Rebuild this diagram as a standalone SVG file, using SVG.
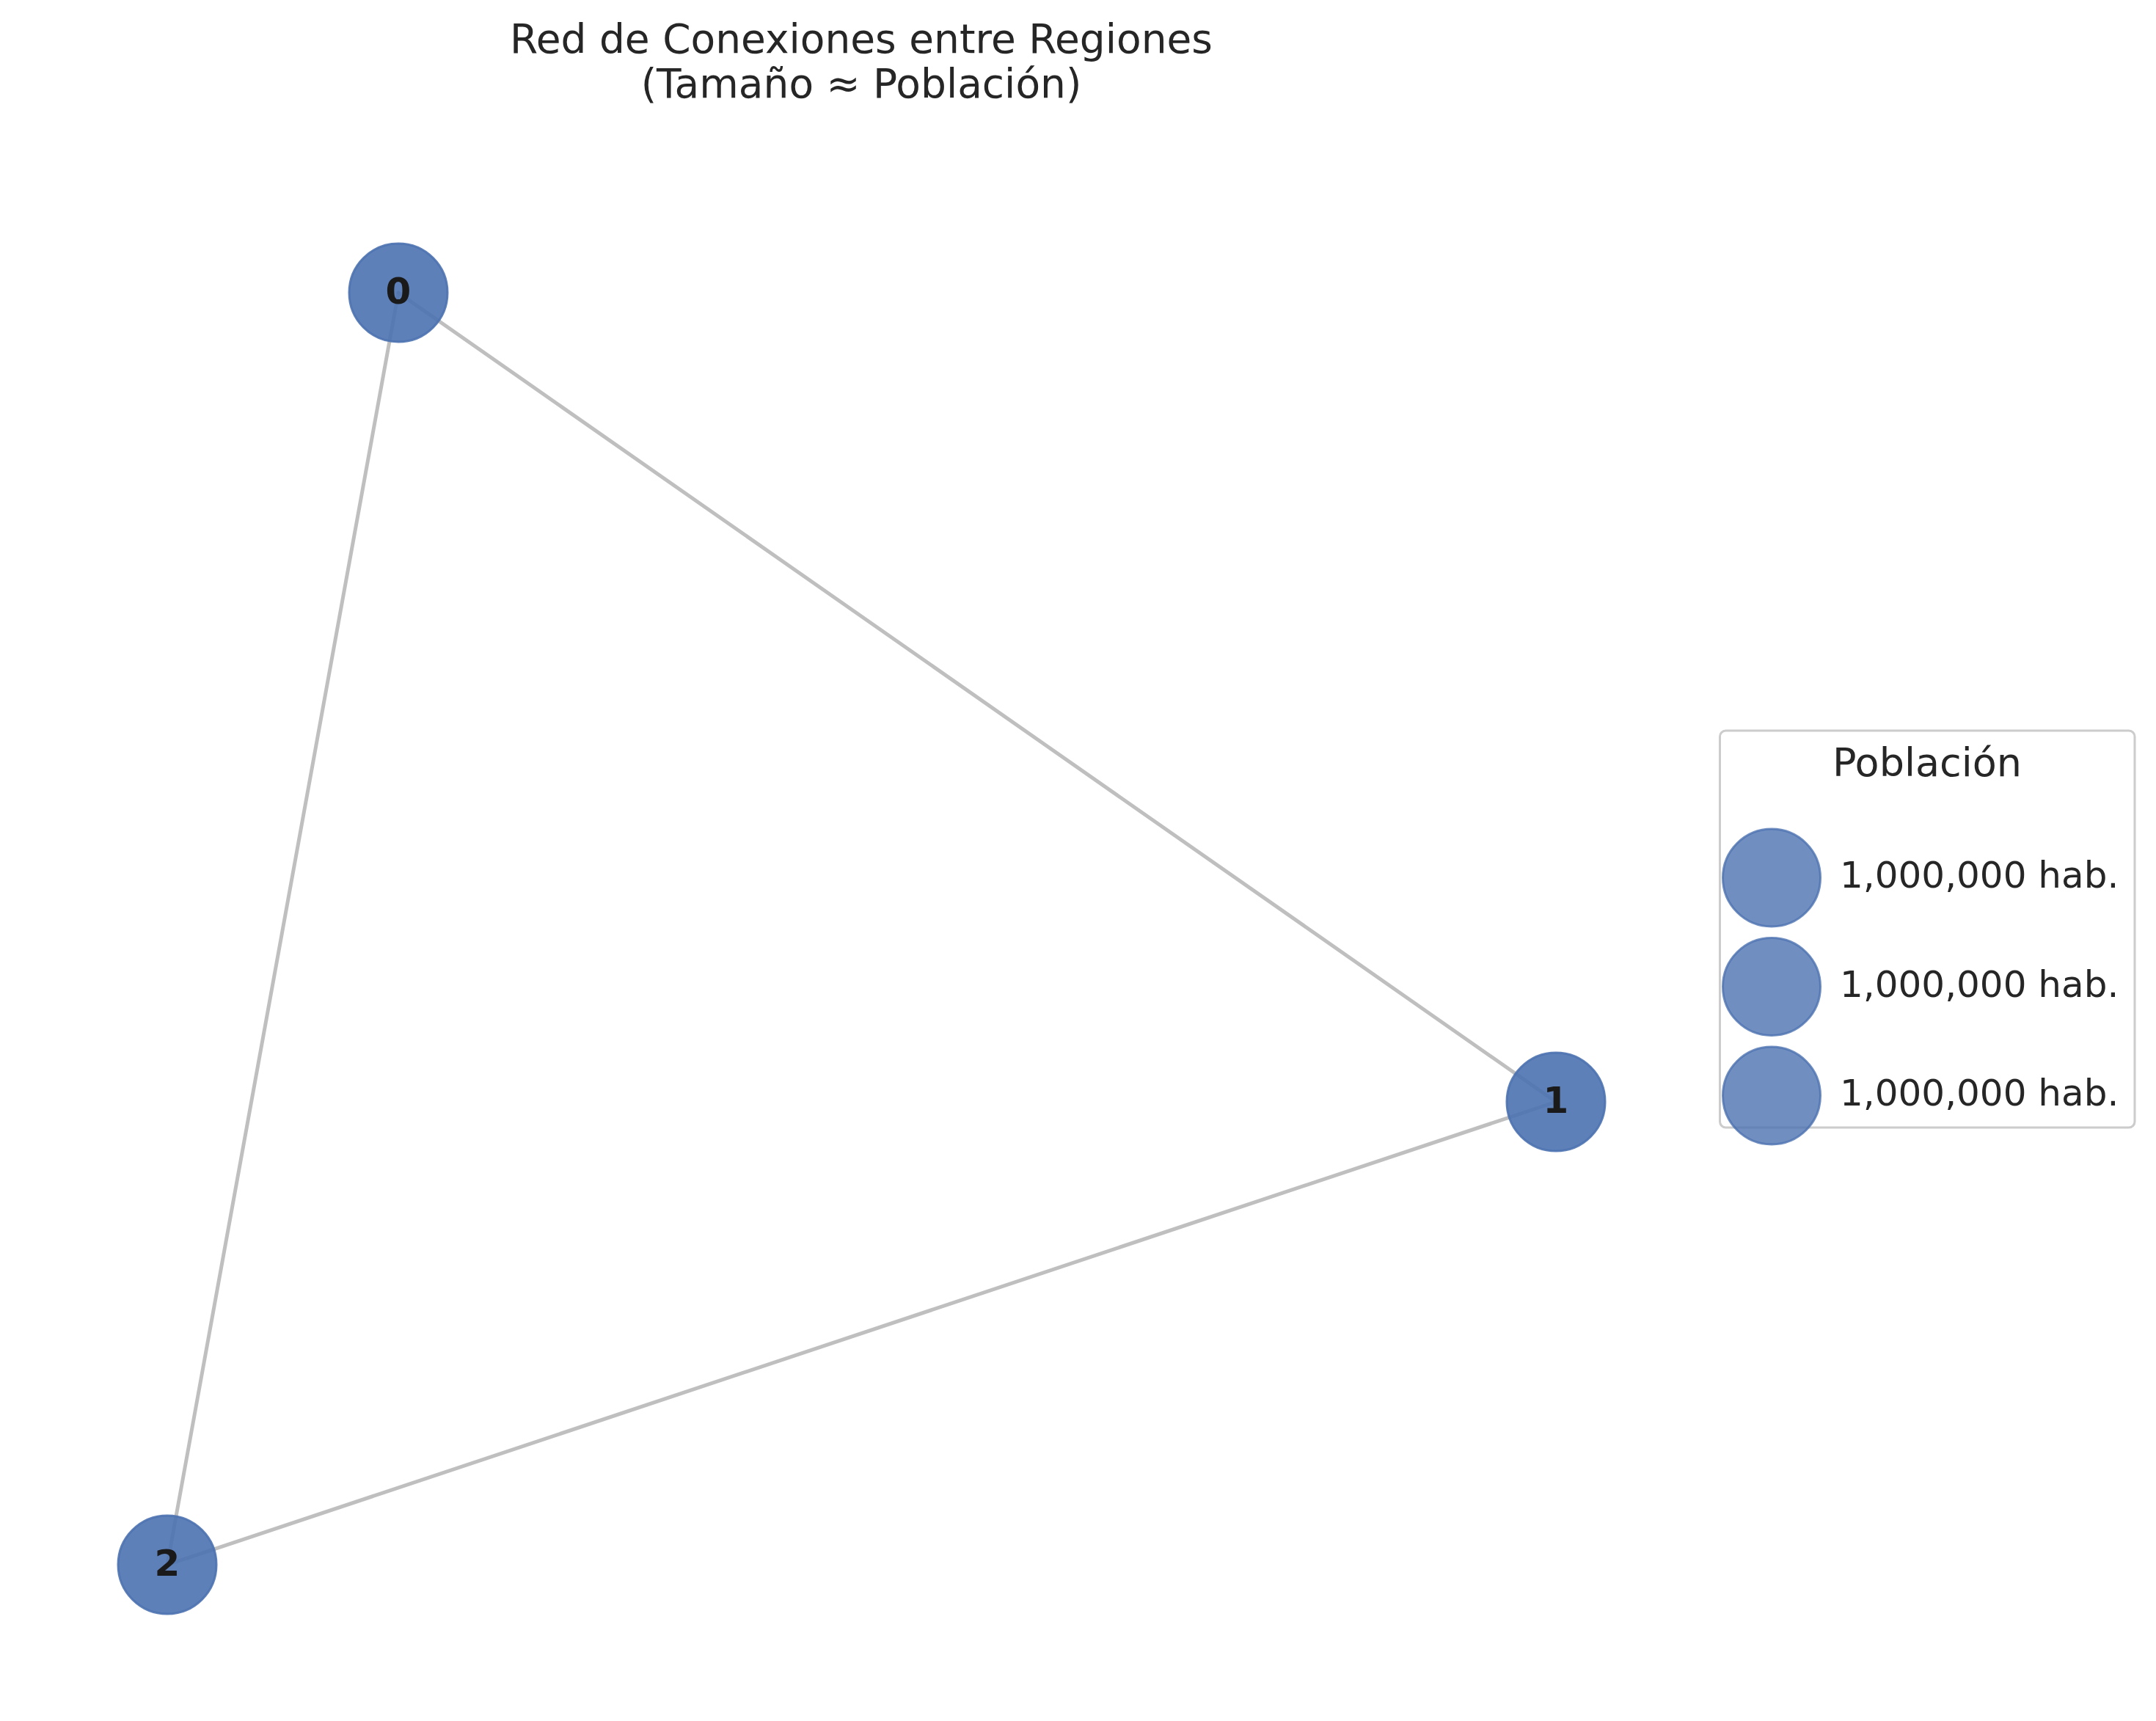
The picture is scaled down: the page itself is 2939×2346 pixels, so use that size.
<svg xmlns="http://www.w3.org/2000/svg" width="2939" height="2346" viewBox="0 0 2939 2346">
<style>
text{font-family:"DejaVu Sans","Liberation Sans",sans-serif;fill:#262626}
.title{font-size:55px;text-anchor:middle}
.edge{stroke:#808080;stroke-opacity:0.5;stroke-width:5;fill:none;stroke-linecap:round}
.node{fill:#4c72b0;fill-opacity:0.9;stroke:#4c72b0;stroke-opacity:0.9;stroke-width:3}
.nlabel{font-size:50px;font-weight:bold;text-anchor:middle;fill:#1a1a1a}
.lbox{fill:#ffffff;fill-opacity:0.8;stroke:#cccccc;stroke-width:3}
.lcirc{fill:#4c72b0;fill-opacity:0.8;stroke:#4c72b0;stroke-opacity:0.8;stroke-width:3}
.ltitle{font-size:54px;text-anchor:middle}
.ltext{font-size:50px}
</style>
<rect x="0" y="0" width="2939" height="2346" fill="#ffffff"/>
<g id="title">
<text class="title" x="1174" y="71.5">Red de Conexiones entre Regiones</text>
<text class="title" x="1174" y="133">(Tamaño ≈ Población)</text>
</g>
<g id="edges">
<line class="edge" x1="543" y1="399" x2="2121" y2="1502"/>
<line class="edge" x1="543" y1="399" x2="228" y2="2133"/>
<line class="edge" x1="2121" y1="1502" x2="228" y2="2133"/>
</g>
<g id="node0">
<circle class="node" cx="543" cy="399" r="67"/>
<text class="nlabel" x="543" y="413.5">0</text>
</g>
<g id="node1">
<circle class="node" cx="2121" cy="1502" r="67"/>
<text class="nlabel" x="2121" y="1517">1</text>
</g>
<g id="node2">
<circle class="node" cx="228" cy="2133" r="67"/>
<text class="nlabel" x="228" y="2148">2</text>
</g>
<g id="legend">
<rect class="lbox" x="2344.5" y="996" width="565.5" height="541" rx="8" ry="8"/>
<text class="ltitle" x="2627" y="1058">Población</text>
<circle class="lcirc" cx="2415" cy="1196.5" r="66.5"/>
<text class="ltext" x="2508" y="1210">1,000,000 hab.</text>
<circle class="lcirc" cx="2415" cy="1345" r="66.5"/>
<text class="ltext" x="2508" y="1358.5">1,000,000 hab.</text>
<circle class="lcirc" cx="2415" cy="1493.5" r="66.5"/>
<text class="ltext" x="2508" y="1507">1,000,000 hab.</text>
</g>
</svg>
